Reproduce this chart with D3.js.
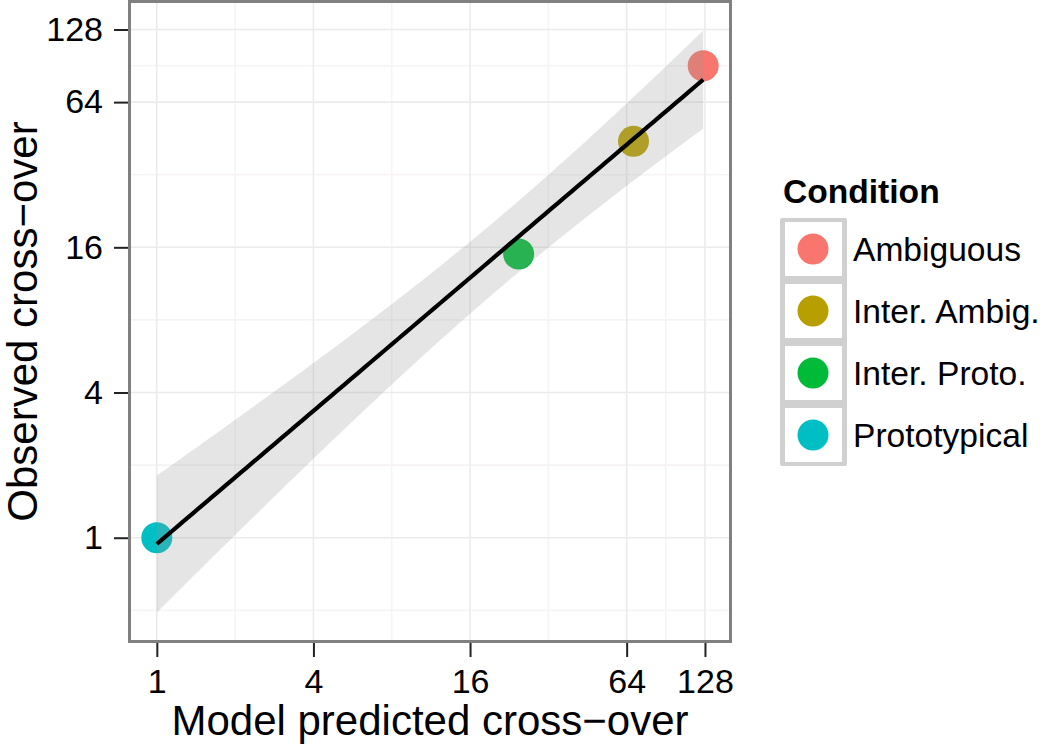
<!DOCTYPE html>
<html lang="en">
<head>
<meta charset="utf-8">
<script src="https://d3js.org/d3.v7.min.js"></script>
<style>
  body { margin: 0; background: #fff; }
  text { font-family: "Liberation Sans", Arial, Helvetica, sans-serif; fill: #000; }
</style>
</head>
<body>
<script>
// the data
var conditions = ["Ambiguous", "Inter. Ambig.", "Inter. Proto.", "Prototypical"];
var predicted  = [126, 68, 24.6, 1];
var observed   = [90.5, 44, 15.0, 1];
var colours    = ["#F8766D", "#B79F00", "#00BA38", "#00BFC4"];
var majorTicks = [1, 4, 16, 64, 128];
var minorTicks = [0.5, 2, 8, 32, 90.5];

var width = 1050, height = 745;
var panel = {left: 129.5, right: 730.5, top: 1.5, bottom: 641.5};

var svg = d3.select("body").append("svg")
            .attr("width", width)
            .attr("height", height);

svg.append("rect").attr("width", width).attr("height", height).attr("fill", "#fff");

// linear fit on the log2 scale, like geom_smooth(method = "lm")
var lx = predicted.map(function(d) { return Math.log2(d); });
var ly = observed.map(function(d) { return Math.log2(d); });
var n = lx.length;
var mx = d3.mean(lx), my = d3.mean(ly);
var sxx = d3.sum(lx, function(d) { return (d - mx) * (d - mx); });
var sxy = d3.sum(lx, function(d, i) { return (d - mx) * (ly[i] - my); });
var slope = sxy / sxx, icpt = my - slope * mx;
var sse = d3.sum(lx, function(d, i) { var r = ly[i] - (icpt + slope * d); return r * r; });
var s = Math.sqrt(sse / (n - 2));
var tq = 4.302653; // t(0.975, df = 2)

var xmin = d3.min(lx), xmax = d3.max(lx);
var band = d3.range(80).map(function(i) {
  var x = xmin + (xmax - xmin) * i / 79;
  var fit = icpt + slope * x;
  var se = s * Math.sqrt(1 / n + (x - mx) * (x - mx) / sxx);
  return {x: x, fit: fit, lo: fit - tq * se, hi: fit + tq * se};
});

// domains with the usual 5% expansion
function expand(lo, hi) { var p = (hi - lo) * 0.05; return [Math.pow(2, lo - p), Math.pow(2, hi + p)]; }
var yLo = Math.min(d3.min(ly), d3.min(band, function(d) { return d.lo; }));
var yHi = Math.max(d3.max(ly), d3.max(band, function(d) { return d.hi; }));

var x = d3.scaleLog().base(2).domain(expand(xmin, xmax)).range([panel.left, panel.right]);
var y = d3.scaleLog().base(2).domain(expand(yLo, yHi)).range([panel.bottom, panel.top]);

var g = svg.append("g");

// grid
var inX = function(v) { return v >= x.domain()[0] && v <= x.domain()[1]; };
var inY = function(v) { return v >= y.domain()[0] && v <= y.domain()[1]; };
g.selectAll(".minx").data(minorTicks.filter(inX)).enter().append("line")
  .attr("x1", x).attr("x2", x).attr("y1", panel.top).attr("y2", panel.bottom)
  .attr("stroke", "#f7f3f3").attr("stroke-width", 1.6);
g.selectAll(".miny").data(minorTicks.filter(inY)).enter().append("line")
  .attr("y1", y).attr("y2", y).attr("x1", panel.left).attr("x2", panel.right)
  .attr("stroke", "#f7f3f3").attr("stroke-width", 1.6);
g.selectAll(".majx").data(majorTicks).enter().append("line")
  .attr("x1", x).attr("x2", x).attr("y1", panel.top).attr("y2", panel.bottom)
  .attr("stroke", "#ebebeb").attr("stroke-width", 1.6);
g.selectAll(".majy").data(majorTicks).enter().append("line")
  .attr("y1", y).attr("y2", y).attr("x1", panel.left).attr("x2", panel.right)
  .attr("stroke", "#ebebeb").attr("stroke-width", 1.6);

// points
g.selectAll(".pt").data(conditions).enter().append("circle")
  .attr("cx", function(d, i) { return x(predicted[i]); })
  .attr("cy", function(d, i) { return y(observed[i]); })
  .attr("r", 15.5)
  .attr("fill", function(d, i) { return colours[i]; });

// confidence ribbon
var area = d3.area()
  .x(function(d) { return x(Math.pow(2, d.x)); })
  .y0(function(d) { return y(Math.pow(2, d.lo)); })
  .y1(function(d) { return y(Math.pow(2, d.hi)); });
g.append("path").datum(band).attr("d", area)
  .attr("fill", "#999999").attr("fill-opacity", 0.26);

// fitted line
var line = d3.line()
  .x(function(d) { return x(Math.pow(2, d.x)); })
  .y(function(d) { return y(Math.pow(2, d.fit)); });
g.append("path").datum(band).attr("d", line)
  .attr("fill", "none").attr("stroke", "#000").attr("stroke-width", 4.2);

// panel border
g.append("rect")
  .attr("x", panel.left).attr("y", panel.top)
  .attr("width", panel.right - panel.left).attr("height", panel.bottom - panel.top)
  .attr("fill", "none").attr("stroke", "#808080").attr("stroke-width", 3);

// axes
var xAxis = d3.axisBottom(x).tickValues(majorTicks).tickFormat(d3.format("d")).tickSize(14).tickPadding(12);
var yAxis = d3.axisLeft(y).tickValues(majorTicks).tickFormat(d3.format("d")).tickSize(14).tickPadding(11);

var gx = svg.append("g").attr("transform", "translate(0," + (panel.bottom + 1.5) + ")").call(xAxis);
var gy = svg.append("g").attr("transform", "translate(" + (panel.left - 1.5) + ",0)").call(yAxis);
[gx, gy].forEach(function(a) {
  a.select(".domain").remove();
  a.selectAll(".tick line").attr("stroke", "#222").attr("stroke-width", 2);
  a.selectAll(".tick text").attr("font-size", 34).attr("font-family", "Liberation Sans, Arial, sans-serif").attr("fill", "#000");
});

// axis titles
svg.append("text")
  .attr("x", (panel.left + panel.right) / 2).attr("y", 735)
  .attr("text-anchor", "middle").attr("font-size", 42)
  .text("Model predicted cross\u2212over");
svg.append("text")
  .attr("transform", "translate(37," + ((panel.top + panel.bottom) / 2) + ") rotate(-90)")
  .attr("text-anchor", "middle").attr("font-size", 42)
  .text("Observed cross\u2212over");

// legend
var leg = svg.append("g").attr("transform", "translate(780,218)");
leg.append("text").attr("x", 3).attr("y", -15)
  .attr("font-size", 33.6).attr("font-weight", "bold").text("Condition");
var keyStep = 62;
leg.append("rect").attr("x", 0).attr("y", 0).attr("width", 67).attr("height", keyStep * conditions.length)
  .attr("rx", 2).attr("fill", "#d0d0d0");
var keys = leg.selectAll(".key").data(conditions).enter().append("g")
  .attr("transform", function(d, i) { return "translate(0," + (i * keyStep) + ")"; });
keys.append("rect").attr("x", 5).attr("y", 4).attr("width", 57).attr("height", keyStep - 8).attr("fill", "#fff");
keys.append("circle").attr("cx", 33).attr("cy", keyStep / 2).attr("r", 15.5)
  .attr("fill", function(d, i) { return colours[i]; });
keys.append("text").attr("x", 73).attr("y", keyStep / 2).attr("dy", "0.36em")
  .attr("font-size", 33.6).text(function(d) { return d; });
</script>
</body>
</html>
